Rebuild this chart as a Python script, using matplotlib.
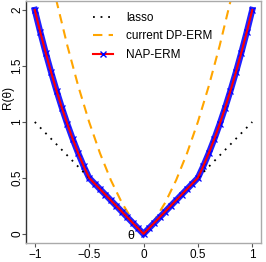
import matplotlib
matplotlib.use("Agg")
import matplotlib.pyplot as plt
from matplotlib.lines import Line2D

plt.rcParams['font.family'] = ['Liberation Sans', 'DejaVu Sans']

theta = [-1.0, -0.95, -0.9, -0.85, -0.8, -0.75, -0.7, -0.65, -0.6, -0.55, -0.5,
         -0.45, -0.4, -0.35, -0.3, -0.25, -0.2, -0.15, -0.1, -0.05, 0.0,
         0.05, 0.1, 0.15, 0.2, 0.25, 0.3, 0.35, 0.4, 0.45, 0.5,
         0.55, 0.6, 0.65, 0.7, 0.75, 0.8, 0.85, 0.9, 0.95, 1.0]
nap = [2.0, 1.805, 1.62, 1.445, 1.28, 1.125, 0.98, 0.845, 0.72, 0.605, 0.5,
       0.45, 0.4, 0.35, 0.3, 0.25, 0.2, 0.15, 0.1, 0.05, 0.0,
       0.05, 0.1, 0.15, 0.2, 0.25, 0.3, 0.35, 0.4, 0.45, 0.5,
       0.605, 0.72, 0.845, 0.98, 1.125, 1.28, 1.445, 1.62, 1.805, 2.0]

theta_dp = [-0.85, -0.8, -0.7, -0.6, -0.5, -0.4, -0.3, -0.2, -0.1, 0.0,
            0.1, 0.2, 0.3, 0.4, 0.5, 0.6, 0.7, 0.8, 0.85]
dp = [2.295, 2.08, 1.68, 1.32, 1.0, 0.72, 0.48, 0.28, 0.12, 0.0,
      0.12, 0.28, 0.48, 0.72, 1.0, 1.32, 1.68, 2.08, 2.295]

theta_lasso = [-1.0, 0.0, 1.0]
lasso = [1.0, 0.0, 1.0]

fig = plt.figure(figsize=(2.66, 2.62), dpi=100)
ax = fig.add_axes([0.098, 0.073, 0.883, 0.923])

ax.plot(theta_lasso, lasso, color='black', lw=1.3, ls=(0, (1, 3.2)), zorder=4)
ax.plot(theta_dp, dp, color='orange', lw=1.5, ls=(0, (4.5, 3)), zorder=2)
ax.plot(theta, nap, color='#2020ff', lw=4.5, zorder=3, solid_joinstyle='miter')
ax.plot(theta, nap, ls='none', marker='x', color='blue', ms=4.5, mew=0.9, zorder=3)
ax.plot(theta, nap, color='red', lw=1.5, zorder=5)

ax.set_xlim(-1.08, 1.08)
ax.set_ylim(-0.08, 2.08)
ax.set_xticks([-1, -0.5, 0, 0.5, 1])
ax.set_xticklabels(['\u22121', '\u22120.5', '0', '0.5', '1'])
ax.set_yticks([0, 0.5, 1, 1.5, 2])
ax.set_yticklabels(['0', '0.5', '1', '1.5', '2'])
for lab in ax.get_yticklabels():
    lab.set_rotation(90)
    lab.set_rotation_mode('anchor')
    lab.set_ha('center')
    lab.set_va('baseline')
ax.tick_params(axis='both', labelsize=8.5, length=3, width=0.8, color='#555555')
ax.tick_params(axis='x', pad=1.5)
ax.tick_params(axis='y', pad=1.2)

for s in ['top', 'right', 'bottom']:
    ax.spines[s].set_color('#aaaaaa')
    ax.spines[s].set_linewidth(1)
ax.spines['left'].set_color('#333333')
ax.spines['left'].set_linewidth(1)

ax.set_ylabel('R(\u03b8)', fontsize=8.5)
ax.yaxis.set_label_coords(-0.052, 0.6)
ax.text(-0.12, -0.02, '\u03b8', fontsize=9, ha='center', va='center')

handles = [
    Line2D([], [], color='black', lw=1.3, ls=(0, (1, 3.2))),
    Line2D([], [], color='orange', lw=1.5, ls=(0, (4.5, 3))),
    Line2D([], [], color='red', lw=1.5, marker='x', mec='blue', ms=4.5, mew=1),
]
ax.legend(handles, ['lasso', 'current DP-ERM', 'NAP-ERM'], loc='upper left',
          bbox_to_anchor=(0.24, 1.0), frameon=False, fontsize=8.5,
          handlelength=1.7, handletextpad=1.1, labelspacing=0.55)

fig.savefig('out.png', dpi=100)
